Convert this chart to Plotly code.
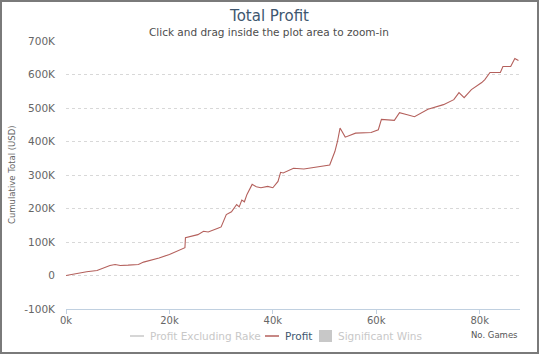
import plotly.graph_objects as go

games = [0, 2000, 4000, 6000, 8500, 9500, 10500, 12000, 14000, 15000, 18000, 20000, 22000, 23000, 23100,
         24500, 25500, 26600, 27500, 29500, 30000, 31000, 32000, 33000, 33500, 34000, 34500, 35000, 36000,
         36800, 37700, 39000, 40000, 41000, 41500, 42000, 44000, 46000, 48000, 50000, 51000, 52000, 52500,
         53000, 54000, 56000, 59000, 60400, 61000, 63500, 64500, 66000, 67400, 70000, 73000, 75000, 76000,
         77000, 78400, 80400, 81000, 82000, 84000, 84500, 86000, 86800, 87500]
profit = [0, 6000, 11000, 15000, 30000, 33000, 30000, 31000, 33000, 40000, 52000, 63000, 76000, 83000, 113000,
          118000, 122000, 132000, 130000, 142000, 145000, 182000, 190000, 212000, 205000, 225000, 220000, 242000,
          272000, 265000, 262000, 266000, 262000, 281000, 308000, 306000, 320000, 318000, 323000, 326000, 330000,
          370000, 400000, 440000, 413000, 425000, 427000, 435000, 466000, 463000, 486000, 480000, 474000, 496000,
          510000, 525000, 546000, 531000, 555000, 576000, 585000, 606000, 606000, 624000, 624000, 648000, 642000]

y_ticks = [-100000, 0, 100000, 200000, 300000, 400000, 500000, 600000, 700000]
y_labels = ["-100K", "0", "100K", "200K", "300K", "400K", "500K", "600K", "700K"]
x_ticks = [0, 20000, 40000, 60000, 80000]
x_labels = ["0k", "20k", "40k", "60k", "80k"]
legend_names = ["Profit Excluding Rake", "Profit", "Significant Wins"]

W, H = 539, 354
L, R, T, B = 66, 19, 41, 45
pw, ph = W - L - R, H - T - B

font = "DejaVu Sans, Verdana, sans-serif"
LINE_COLOR = "#B4605C"
HIDDEN = "#c8c8c8"


def px(xp):
    return (xp - L) / pw


def py(yp):
    return (H - B - yp) / ph


fig = go.Figure()
fig.add_trace(go.Scatter(x=games, y=profit, mode="lines", name=legend_names[1],
                         line=dict(color=LINE_COLOR, width=1.1), showlegend=False))

fig.update_layout(
    width=W, height=H,
    margin=dict(l=L, r=R, t=T, b=B, pad=0, autoexpand=False),
    paper_bgcolor="white", plot_bgcolor="white",
    font=dict(family=font, size=10, color="#666666"),
    title=dict(text="Total Profit", x=0.5, xref="container", xanchor="center", y=1 - 16 / H, yanchor="middle",
               font=dict(size=15, color="#3E576F", family=font)),
    showlegend=False,
    xaxis=dict(range=[0, 87800], tickvals=x_ticks, ticktext=x_labels, showgrid=False, zeroline=False,
               showline=True, linecolor="#C0D0E0", linewidth=1, ticks="outside", ticklen=4, tickcolor="#C0D0E0",
               ticklabelstandoff=-2, tickfont=dict(size=10, color="#666666"), automargin=False),
    yaxis=dict(range=[-100000, 700000], tickvals=y_ticks, ticktext=y_labels, showgrid=True,
               gridcolor="#D8D8D8", griddash="dot", gridwidth=1, zeroline=False, showline=False,
               ticks="", ticklabelstandoff=10, automargin=False,
               tickfont=dict(size=10.5, color="#666666")),
)

# subtitle and axis titles
fig.add_annotation(text="Click and drag inside the plot area to zoom-in", xref="paper", yref="paper",
                   x=px(269), y=py(32), xanchor="center", yanchor="middle", showarrow=False,
                   font=dict(size=10.5, color="#4d4d4d", family=font))
fig.add_annotation(text="Cumulative Total (USD)", xref="paper", yref="paper", x=px(12), y=0.5,
                   xanchor="center", yanchor="middle", textangle=-90, showarrow=False,
                   font=dict(size=8.5, color="#666666", family=font))
fig.add_annotation(text="No. Games", xref="paper", yref="paper", x=px(520), y=py(335),
                   xanchor="right", yanchor="middle", showarrow=False,
                   font=dict(size=8.5, color="#555555", family=font))

# legend (drawn manually to match spacing)
ly = py(336)
fig.add_shape(type="line", xref="paper", yref="paper", x0=px(130), x1=px(144), y0=ly, y1=ly,
              line=dict(color=HIDDEN, width=1.5))
fig.add_annotation(text=legend_names[0], xref="paper", yref="paper", x=px(148), y=ly,
                   xanchor="left", yanchor="middle", showarrow=False,
                   font=dict(size=10.5, color=HIDDEN, family=font))
fig.add_shape(type="line", xref="paper", yref="paper", x0=px(265), x1=px(279), y0=ly, y1=ly,
              line=dict(color=LINE_COLOR, width=1.5))
fig.add_annotation(text=legend_names[1], xref="paper", yref="paper", x=px(283), y=ly,
                   xanchor="left", yanchor="middle", showarrow=False,
                   font=dict(size=10.5, color="#3E576F", family=font))
fig.add_shape(type="rect", xref="paper", yref="paper", x0=px(319), x1=px(332), y0=py(342), y1=py(330),
              line=dict(width=0), fillcolor=HIDDEN)
fig.add_annotation(text=legend_names[2], xref="paper", yref="paper", x=px(336), y=ly,
                   xanchor="left", yanchor="middle", showarrow=False,
                   font=dict(size=10.5, color=HIDDEN, family=font))

# outer border
fig.add_shape(type="rect", xref="paper", yref="paper",
              x0=px(1), x1=px(W - 1), y0=py(H - 1), y1=py(1),
              line=dict(color="#7a7a7a", width=2), layer="above")

fig.write_html("out.html")
